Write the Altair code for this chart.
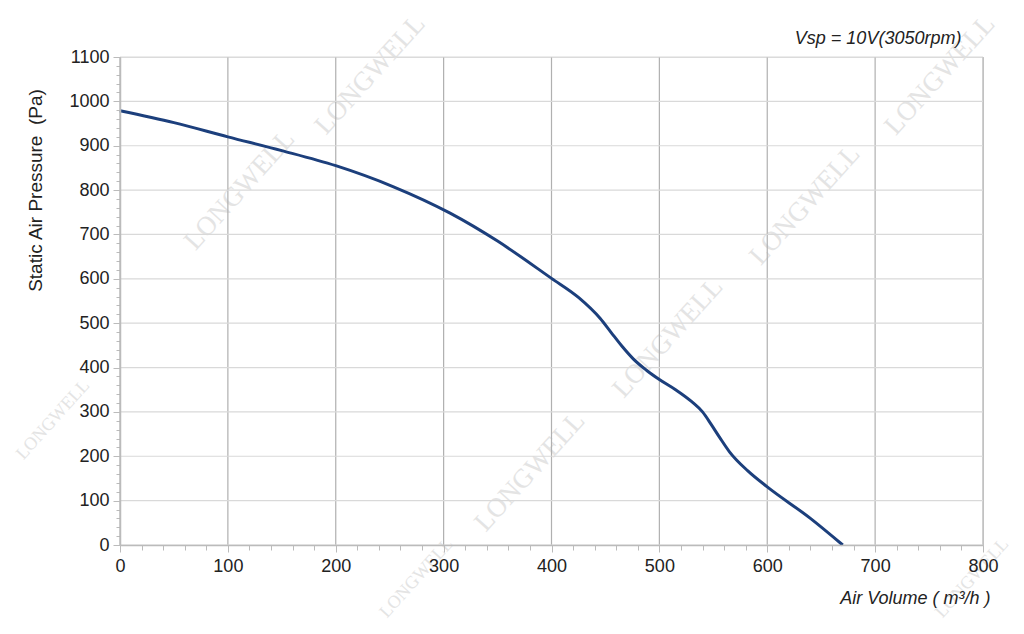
import altair as alt
import pandas as pd

# Curve data (Air Volume m3/h vs Static Air Pressure Pa)
air_volume = [0, 50, 100, 150, 200, 253, 306, 350, 400, 425, 445, 455, 465, 476, 488, 500, 515, 530, 540, 548, 556, 565, 582, 600, 640, 670]
pressure = [979, 952, 920, 889, 855, 808, 748, 685, 601, 558, 511, 480, 449, 419, 394, 373, 350, 323, 300, 272, 242, 210, 167, 131, 60, 0]

x_ticks = [0, 100, 200, 300, 400, 500, 600, 700, 800]
y_ticks = [0, 100, 200, 300, 400, 500, 600, 700, 800, 900, 1000, 1100]
x_minor = list(range(0, 801, 20))
y_minor = list(range(0, 1101, 20))

wm_x = [232, 111, -62, 635, 508, 380, 275, 760, 790]
wm_y = [1060, 800, 282, 766, 467, 165, -75, 1059, -75]
wm_size = [27, 27, 18, 27, 27, 27, 18, 27, 18]
wm_text = ["LONGWELL"] * len(wm_x)

note_x = [780]
note_y = [1140]
note_text = ["Vsp = 10V(3050rpm)"]

df = pd.DataFrame({"v": air_volume, "p": pressure})
wm = pd.DataFrame({"v": wm_x, "p": wm_y, "s": wm_size, "t": wm_text})
note = pd.DataFrame({"v": note_x, "p": note_y, "t": note_text})

xs = alt.Scale(domain=[0, 800], nice=False, zero=False)
ys = alt.Scale(domain=[0, 1100], nice=False, zero=False)

W, H = 863, 488
AX = "#bbbbbb"

vgrid = alt.Chart(pd.DataFrame({"v": x_ticks})).mark_rule(color="#b0b0b0", strokeWidth=1.2).encode(
    x=alt.X("v:Q", scale=xs, axis=None)
)
hgrid = alt.Chart(pd.DataFrame({"p": y_ticks})).mark_rule(color="#d9d9d9", strokeWidth=1.2).encode(
    y=alt.Y("p:Q", scale=ys, axis=None)
)

watermark = alt.Chart(wm).mark_text(
    font="Liberation Serif", angle=312, color="#e4e4e4"
).encode(
    x=alt.X("v:Q", scale=xs, axis=None),
    y=alt.Y("p:Q", scale=ys, axis=None),
    size=alt.Size("s:Q", scale=None, legend=None),
    text="t:N",
)

minor_ax = alt.Chart(pd.DataFrame({"v": [0], "p": [0]})).mark_point(opacity=0).encode(
    x=alt.X("v:Q", scale=xs, axis=alt.Axis(
        values=x_minor, labels=False, title=None, grid=False, domain=False,
        tickSize=5, tickColor=AX, orient="bottom")),
    y=alt.Y("p:Q", scale=ys, axis=alt.Axis(
        values=y_minor, labels=False, title=None, grid=False, domain=False,
        tickSize=4, tickColor=AX, orient="left")),
)

line = alt.Chart(df).mark_line(color="#1c3f7c", strokeWidth=3, interpolate="monotone").encode(
    x=alt.X(
        "v:Q", scale=xs,
        axis=alt.Axis(
            values=x_ticks, title="Air Volume ( m³/h )", grid=False, orient="bottom", format="d",
            labelFontSize=18, labelColor="#222", labelFont="Liberation Sans", labelPadding=5,
            labelFlush=False, zindex=2,
            tickSize=7, tickColor=AX, domainColor=AX, domainWidth=1.5,
            titleFont="Liberation Sans", titleFontSize=18, titleFontStyle="italic",
            titleFontWeight="normal", titleColor="#222",
            titleAlign="right", titleBaseline="top", titleX=870, titleY=44,
        ),
    ),
    y=alt.Y(
        "p:Q", scale=ys,
        axis=alt.Axis(
            values=y_ticks, title="Static Air Pressure\u00a0\u00a0(Pa)", grid=False, orient="left", format="d",
            labelFontSize=18, labelColor="#222", labelFont="Liberation Sans", labelPadding=4,
            labelFlush=False, zindex=2,
            tickSize=7, tickColor=AX, domainColor=AX, domainWidth=1.5,
            titleFont="Liberation Sans", titleFontSize=19, titleFontWeight="normal", titleColor="#222",
            titleAlign="center", titleBaseline="middle", titleX=-85, titleY=133,
        ),
    ),
)

note_layer = alt.Chart(note).mark_text(
    font="Liberation Sans", fontSize=18, fontStyle="italic", color="#222", align="right", baseline="middle"
).encode(
    x=alt.X("v:Q", scale=xs, axis=None),
    y=alt.Y("p:Q", scale=ys, axis=None),
    text="t:N",
)

chart = alt.layer(watermark, vgrid, hgrid, minor_ax, line, note_layer).resolve_axis(
    x="independent", y="independent"
).properties(
    width=W, height=H,
    autosize=alt.AutoSizeParams(type="none"),
    padding={"left": 112, "top": 49, "right": 33, "bottom": 81},
).configure_view(stroke=None).configure(background="white")

chart.save("out.html", embed_options={"renderer": "svg", "actions": False})
